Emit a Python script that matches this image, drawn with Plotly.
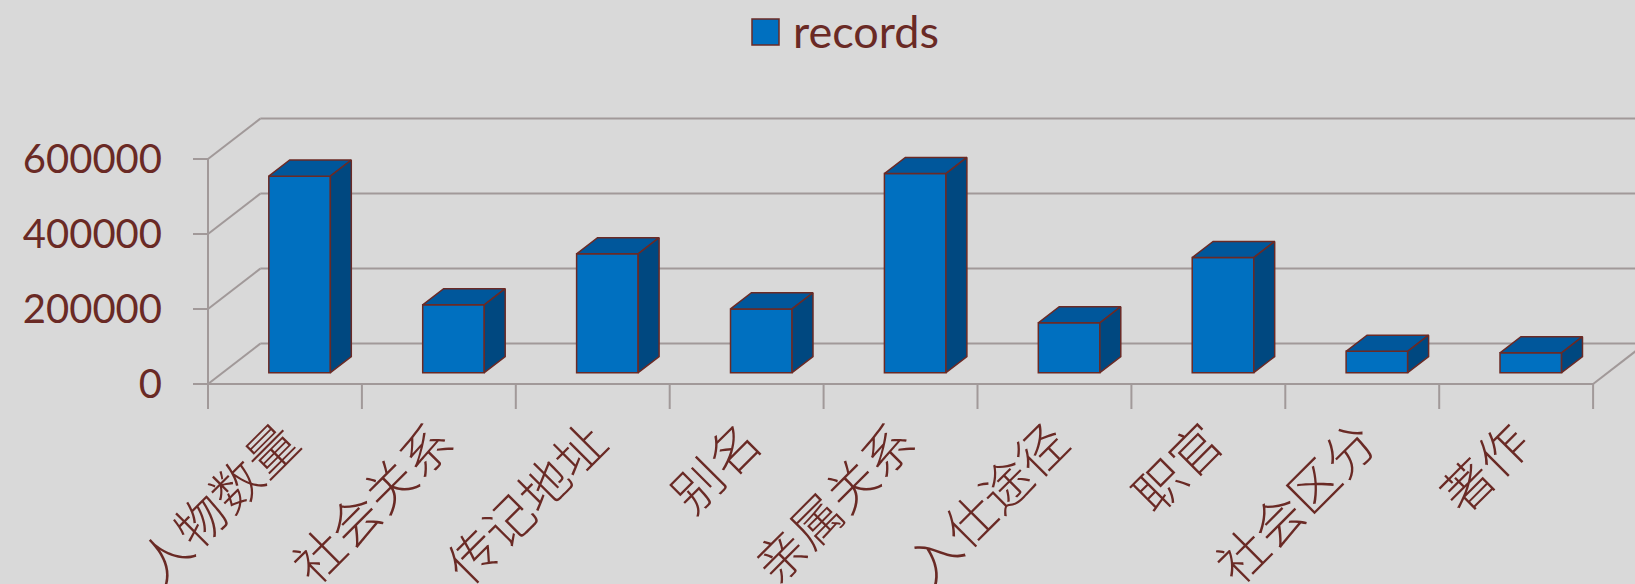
import plotly.graph_objects as go

# ---------------- data ----------------
categories = ["人物数量", "社会关系", "传记地址", "别名", "亲属关系",
              "入仕途径", "职官", "社会区分", "著作"]
records = [524000, 181000, 317000, 170000, 531000, 133000, 307000, 57000, 53000]
y_tick_values = [0, 200000, 400000, 600000]
y_tick_labels = ["0", "200000", "400000", "600000"]
series_name = "records"

# ---------------- geometry / style ----------------
W, H = 1635, 584
CAT_PX = 153.9            # pixels per category on front plane
VAL_PX = 75 / 200000      # pixels per value unit
X0_PX, FLOOR_PX = 208, 384
PLOT_L, PLOT_R, PLOT_T, PLOT_B = 185, 1635, 100, 414
DEPTH_X_PX, DEPTH_Y_PX = 52.3, 40.4
D1, D2 = 0.28, 0.68       # bar front / back depth fractions
BAR_W = 0.4

BG = "#d9d9d9"
TEXT = "#6a2a25"
GRID = "#a19999"
FRONT, TOP, SIDE, EDGE = "#0070c0", "#00579b", "#004880", "#6b2a25"

DX = DEPTH_X_PX / CAT_PX
DY = DEPTH_Y_PX / VAL_PX
N = len(categories)


def px_to_x(px):
    return -0.5 + (px - X0_PX) / CAT_PX


def py_to_y(py):
    return (FLOOR_PX - py) / VAL_PX


xrange = [px_to_x(PLOT_L), px_to_x(PLOT_R)]
yrange = [py_to_y(PLOT_B), py_to_y(PLOT_T)]

left, right = -0.5, N - 0.5
shapes = []


def seg(x0, y0, x1, y1):
    shapes.append(dict(type="line", xref="x", yref="y", x0=x0, y0=y0, x1=x1, y1=y1,
                       line=dict(color=GRID, width=2), layer="below"))


# walls: gridlines on side and back wall, y ticks
for v in y_tick_values:
    seg(left, v, left + DX, v + DY)
    seg(left + DX, v + DY, right + DX + 2, v + DY)
    seg(left - 15 / CAT_PX, v, left, v)
# front value axis
seg(left, 0, left, max(y_tick_values))
# floor front edge and right edge
seg(left, 0, right, 0)
seg(right, 0, right + DX, DY)
# category boundary ticks
for k in range(N + 1):
    seg(left + k, 0, left + k, -25 / VAL_PX)

fig = go.Figure()

# front faces
fig.add_trace(go.Bar(
    x=[i + D1 * DX for i in range(N)], y=records, base=D1 * DY, width=BAR_W,
    marker=dict(color=FRONT, line=dict(color=EDGE, width=1.5)),
    name=series_name, showlegend=False, hoverinfo="skip"))

# top and side faces
dd = D2 - D1
tx, ty, sx, sy = [], [], [], []
for i, v in enumerate(records):
    xl = i - BAR_W / 2 + D1 * DX
    xr = i + BAR_W / 2 + D1 * DX
    yt = v + D1 * DY
    yb = D1 * DY
    tx += [xl, xr, xr + dd * DX, xl + dd * DX, xl, None]
    ty += [yt, yt, yt + dd * DY, yt + dd * DY, yt, None]
    sx += [xr, xr, xr + dd * DX, xr + dd * DX, xr, None]
    sy += [yt, yb, yb + dd * DY, yt + dd * DY, yt, None]

fig.add_trace(go.Scatter(x=tx, y=ty, mode="lines", fill="toself", fillcolor=TOP,
                         line=dict(color=EDGE, width=1.5), showlegend=False,
                         hoverinfo="skip"))
fig.add_trace(go.Scatter(x=sx, y=sy, mode="lines", fill="toself", fillcolor=SIDE,
                         line=dict(color=EDGE, width=1.5), showlegend=False,
                         hoverinfo="skip"))


# legend (manual, large swatch)
def pxp(px):
    return (px - PLOT_L) / (PLOT_R - PLOT_L)


def pyp(py):
    return (PLOT_B - py) / (PLOT_B - PLOT_T)


shapes.append(dict(type="rect", xref="paper", yref="paper",
                   x0=pxp(752), x1=pxp(779), y0=pyp(45), y1=pyp(19),
                   fillcolor=FRONT, line=dict(color=EDGE, width=1.5)))
annotations = [dict(text=series_name, xref="paper", yref="paper", x=pxp(791), y=pyp(31),
                    xanchor="left", yanchor="middle", showarrow=False,
                    font=dict(family="Lato", size=45, color=TEXT))]

fig.update_layout(
    width=W, height=H,
    margin=dict(l=PLOT_L, r=W - PLOT_R, t=PLOT_T, b=H - PLOT_B, pad=0,
                autoexpand=False),
    paper_bgcolor=BG, plot_bgcolor=BG,
    shapes=shapes, annotations=annotations, showlegend=False,
    xaxis=dict(range=xrange, showgrid=False, zeroline=False, showline=False,
               automargin=False,
               ticks="", tickmode="array", tickvals=list(range(N)), ticktext=categories,
               tickangle=-45, ticklabelstandoff=-12,
               tickfont=dict(family="Noto Sans CJK SC", size=50, weight=300, color=TEXT)),
    yaxis=dict(range=yrange, showgrid=False, zeroline=False, showline=False,
               automargin=False,
               ticks="", tickmode="array", tickvals=y_tick_values, ticktext=y_tick_labels,
               ticklabelstandoff=22,
               tickfont=dict(family="Lato", size=40, color=TEXT)),
)

fig.write_html("out.html", config={"displayModeBar": False},
               post_script="document.body.style.margin='0';document.body.style.overflow='hidden';")
